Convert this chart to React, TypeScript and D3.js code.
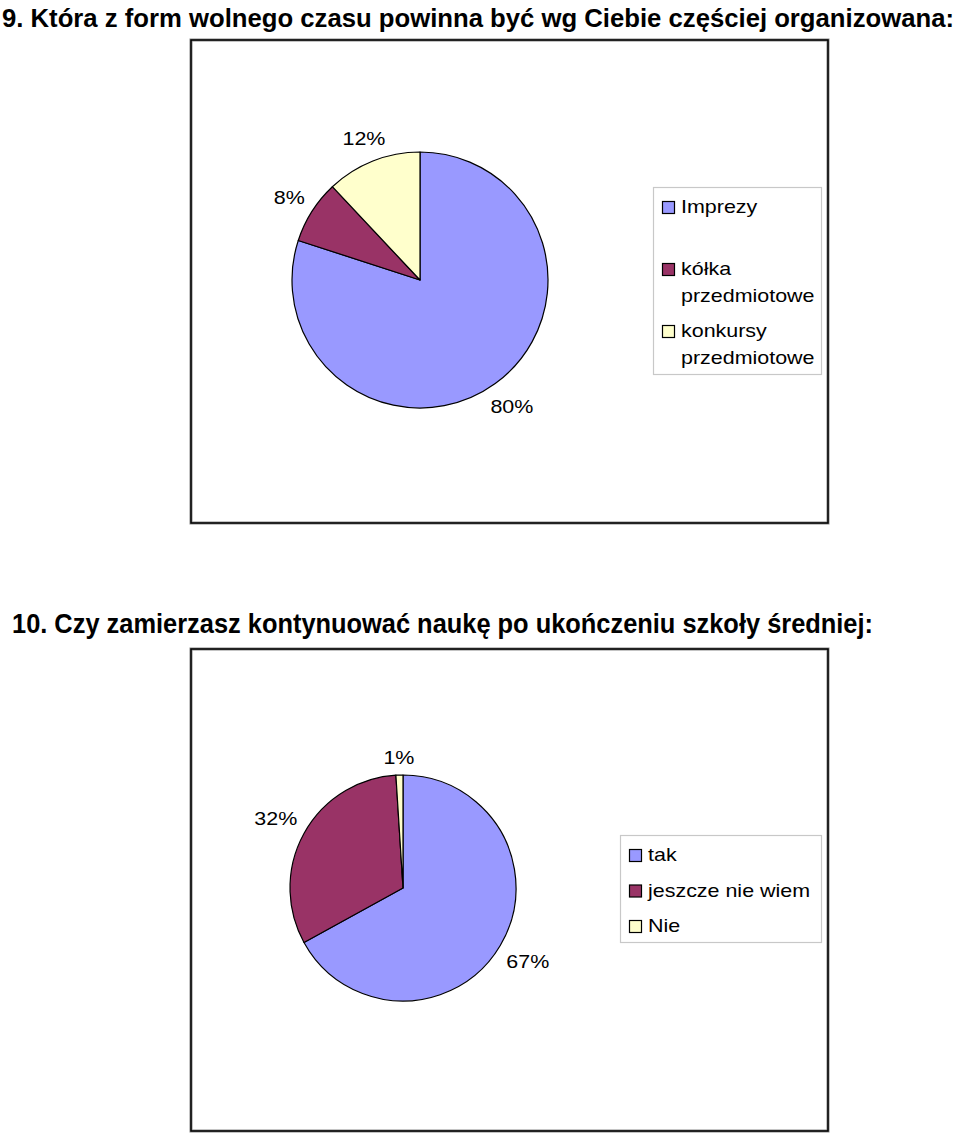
import React from "react";
import * as d3 from "d3";

const TITLE1 = "9. Która z form wolnego czasu powinna być wg Ciebie częściej organizowana:";
const TITLE2 = "10. Czy zamierzasz kontynuować naukę po ukończeniu szkoły średniej:";

const CHART1_CATEGORIES = ["Imprezy", "kółka przedmiotowe", "konkursy przedmiotowe"];
const CHART1_VALUES = [80, 8, 12];
const CHART1_LEGEND_LINES = [["Imprezy"], ["kółka", "przedmiotowe"], ["konkursy", "przedmiotowe"]];

const CHART2_CATEGORIES = ["tak", "jeszcze nie wiem", "Nie"];
const CHART2_VALUES = [67, 32, 1];
const CHART2_LEGEND_LINES = [["tak"], ["jeszcze nie wiem"], ["Nie"]];

const COLORS = ["#9999FF", "#993366", "#FFFFCC"];

const FONT = "'Liberation Sans', Arial, Helvetica, sans-serif";
const FS = 18.5;
const SX = 1.16;

function StretchText({ x, y, children, anchor = "start", baseline = "auto" }: any) {
  return (
    <g transform={`translate(${x},${y}) scale(${SX},1)`}>
      <text
        x={0}
        y={0}
        fontFamily={FONT}
        fontSize={FS}
        textAnchor={anchor}
        dominantBaseline={baseline}
        fill="#000"
      >
        {children}
      </text>
    </g>
  );
}

function Pie({ cx, cy, r, values }: { cx: number; cy: number; r: number; values: number[] }) {
  const pie = d3.pie<number>().sort(null).value((d) => d).startAngle(0).endAngle(2 * Math.PI);
  const arcs = pie(values);
  const arc = d3.arc<d3.PieArcDatum<number>>().innerRadius(0).outerRadius(r);
  return (
    <g transform={`translate(${cx},${cy})`}>
      {arcs.map((a, i) => (
        <path key={i} d={arc(a) || ""} fill={COLORS[i]} stroke="#000" strokeWidth={1.2} strokeLinejoin="round" />
      ))}
      {arcs.map((a, i) => {
        const mid = (a.startAngle + a.endAngle) / 2;
        const dx = Math.sin(mid);
        const dy = -Math.cos(mid);
        const label = `${values[i]}%`;
        const digits = String(values[i]).length;
        const w = (digits * 0.556 + 0.889) * FS * SX;
        const h = FS * 0.75;
        const rr = r + 10 + Math.abs(dx) * (w / 2) + Math.abs(dy) * (h / 2);
        return (
          <StretchText key={"l" + i} x={dx * rr} y={dy * rr} anchor="middle" baseline="central">
            {label}
          </StretchText>
        );
      })}
    </g>
  );
}

function Legend({
  x,
  y,
  w,
  h,
  lines,
  firstSwatchY,
  spacing,
  lineHeight,
}: {
  x: number;
  y: number;
  w: number;
  h: number;
  lines: string[][];
  firstSwatchY: number;
  spacing: number;
  lineHeight: number;
}) {
  return (
    <g>
      <rect x={x + 0.5} y={y + 0.5} width={w} height={h} fill="#fff" stroke="#c8c8c8" strokeWidth={1.2} />
      {lines.map((ls, i) => {
        const sy = firstSwatchY + i * spacing;
        return (
          <g key={i}>
            <rect x={x + 9.5} y={sy + 0.5} width={12} height={12} fill={COLORS[i]} stroke="#000" strokeWidth={1.2} />
            {ls.map((t, j) => (
              <StretchText key={j} x={x + 28} y={sy + 12 + j * lineHeight}>
                {t}
              </StretchText>
            ))}
          </g>
        );
      })}
    </g>
  );
}

const TITLE_FONT = "'Liberation Sans Narrow', 'Arial Narrow', 'Liberation Sans', Arial, sans-serif";

export default function App() {
  return (
    <svg
      width={960}
      height={1133}
      style={{ position: "absolute", left: 0, top: 0, background: "#fff" }}
    >
      <rect x={0} y={0} width={960} height={1133} fill="#fff" />
      <text
        x={2}
        y={27}
        fontFamily={TITLE_FONT}
        fontWeight="bold"
        fontSize={26}
        textLength={952}
        lengthAdjust="spacingAndGlyphs"
      >
        {TITLE1}
      </text>
      <rect x={191} y={40} width={637} height={483} fill="#fff" stroke="#888" strokeWidth={3} />
      <rect x={191} y={40} width={637} height={483} fill="none" stroke="#000" strokeWidth={1.5} />
      <Pie cx={420} cy={280} r={128} values={CHART1_VALUES} />
      <Legend x={653} y={187} w={168} h={187} lines={CHART1_LEGEND_LINES} firstSwatchY={201} spacing={62} lineHeight={27} />

      <text
        x={12}
        y={633}
        fontFamily={TITLE_FONT}
        fontWeight="bold"
        fontSize={27.5}
        textLength={861}
        lengthAdjust="spacingAndGlyphs"
      >
        {TITLE2}
      </text>
      <rect x={191} y={649} width={637} height={482} fill="#fff" stroke="#888" strokeWidth={3} />
      <rect x={191} y={649} width={637} height={482} fill="none" stroke="#000" strokeWidth={1.5} />
      <Pie cx={403} cy={888} r={113} values={CHART2_VALUES} />
      <Legend x={620} y={835} w={201} h={107} lines={CHART2_LEGEND_LINES} firstSwatchY={849} spacing={35.5} lineHeight={27} />
    </svg>
  );
}
